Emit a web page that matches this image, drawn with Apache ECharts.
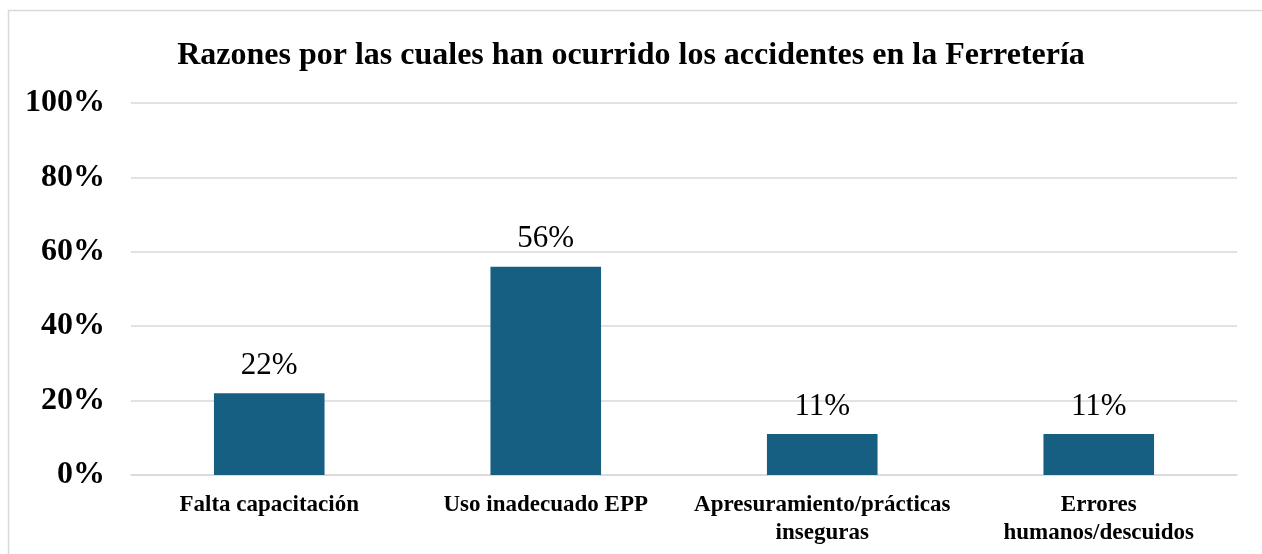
<!DOCTYPE html>
<html><head><meta charset="utf-8">
<script src="https://cdn.jsdelivr.net/npm/echarts@6/dist/echarts.min.js"></script>
<style>html,body{margin:0;padding:0;background:#fff;}#c{width:1262px;height:554px;}</style>
</head><body><div id="c"></div>
<script>
const title = 'Razones por las cuales han ocurrido los accidentes en la Ferretería';
const categories = ['Falta capacitación', 'Uso inadecuado EPP', 'Apresuramiento/prácticas\ninseguras', 'Errores\nhumanos/descuidos'];
const values = [22, 56, 11, 11];
const serif = '"Liberation Serif", "Times New Roman", serif';
const chart = echarts.init(document.getElementById('c'));
chart.setOption({
  backgroundColor: '#fff',
  animation: false,
  graphic: [{type:'rect', shape:{x:8.5,y:10.5,width:1300,height:600}, style:{fill:'none', stroke:'#d9d9d9', lineWidth:1.5}, z:-1}],
  title: {text: title, left: 'center', top: 35, textStyle:{fontFamily: serif, fontWeight:'bold', fontSize:32, color:'#000'}},
  grid: {left:131, right:25, top:103, bottom:79},
  xAxis: {type:'category', data: categories,
    axisLine:{lineStyle:{color:'#d9d9d9', width:1.5}}, axisTick:{show:false},
    axisLabel:{fontFamily: serif, fontWeight:'bold', fontSize:23, color:'#000', margin:16, lineHeight:28, interval:0}},
  yAxis: {type:'value', min:0, max:100, interval:20,
    axisLabel:{formatter:'{value}%', fontFamily: serif, fontWeight:'bold', fontSize:32, color:'#000', margin:26},
    splitLine:{lineStyle:{color:'#d9d9d9', width:1.5}}, axisLine:{show:false}, axisTick:{show:false}},
  series: [{type:'bar', data: values, barWidth:'40%', itemStyle:{color:'#175f82'},
    label:{show:true, position:'top', distance:12, formatter:'{c}%', fontFamily: serif, fontSize:31, color:'#000'}}]
});
</script></body></html>
